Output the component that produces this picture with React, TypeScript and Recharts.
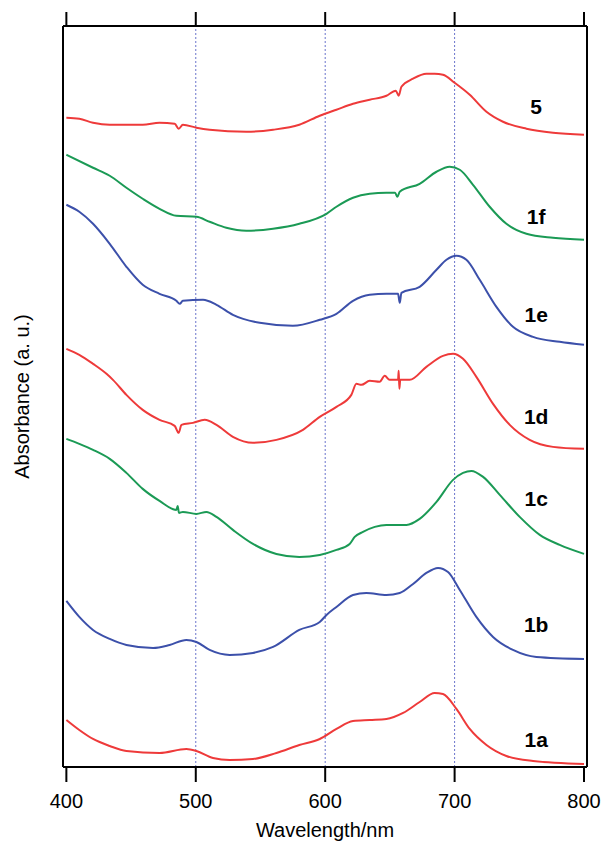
import { LineChart, Line, XAxis, YAxis, ReferenceLine } from "recharts";

// Offset UV-vis spectra, absorbance in arbitrary units: [wavelength nm, A]
const spectrum5: [number, number][] = [
  [400, 6.49], [410, 6.48], [420.6, 6.44], [433.5, 6.42], [459, 6.42], [472, 6.44],
  [483.7, 6.43], [486.8, 6.38], [490, 6.42], [500.5, 6.39], [510.7, 6.37], [539, 6.35],
  [559.7, 6.37], [580, 6.42], [595.8, 6.51], [608.7, 6.57], [621.5, 6.63], [634.4, 6.67],
  [647.3, 6.71], [654.5, 6.76], [656.8, 6.71], [658.9, 6.8], [667.9, 6.88], [678.2, 6.93],
  [684.6, 6.93], [691, 6.92], [700, 6.84], [711.7, 6.72], [724.6, 6.55], [737.4, 6.45],
  [755.5, 6.38], [776, 6.34], [800, 6.32],
];
const spectrum1f: [number, number][] = [
  [400, 6.12], [420.6, 5.99], [433.5, 5.91], [446.4, 5.79], [459, 5.68], [472, 5.58],
  [485, 5.51], [500.5, 5.5], [510.7, 5.45], [523.6, 5.39], [539, 5.36], [559.7, 5.38],
  [580, 5.43], [601, 5.53], [608.7, 5.6], [621.5, 5.69], [634.4, 5.73], [647.3, 5.74],
  [654, 5.74], [655.8, 5.7], [657.6, 5.75], [673, 5.83], [686, 5.95], [696.2, 6.0],
  [704, 5.97], [714.2, 5.82], [727.1, 5.6], [740, 5.43], [755.5, 5.33], [776, 5.29],
  [800, 5.27],
];
const spectrum1e: [number, number][] = [
  [400, 5.62], [410, 5.55], [420.6, 5.43], [433.5, 5.23], [446.4, 5.0], [459, 4.82],
  [472, 4.73], [485, 4.66], [487.6, 4.63], [490, 4.66], [505.6, 4.67], [516, 4.62],
  [528.7, 4.52], [549.4, 4.44], [575, 4.41], [595.8, 4.47], [608.7, 4.53], [621.5, 4.66],
  [634.4, 4.72], [647.3, 4.73], [656.3, 4.73], [657.6, 4.64], [658.9, 4.74], [673, 4.8],
  [686, 4.97], [693.7, 5.07], [701.4, 5.11], [709.1, 5.07], [719.4, 4.87], [732.3, 4.6],
  [745.1, 4.4], [760.6, 4.3], [781.2, 4.25], [800, 4.22],
];
const spectrum1d: [number, number][] = [
  [400, 4.18], [410, 4.12], [420.6, 4.03], [431, 3.93], [436, 3.87], [446.4, 3.72],
  [459, 3.57], [472, 3.47], [483.7, 3.41], [486.8, 3.34], [488.9, 3.42], [497.8, 3.44],
  [506.9, 3.47], [516, 3.42], [528.7, 3.3], [544.2, 3.24], [562.3, 3.27], [582.8, 3.37],
  [595.8, 3.5], [608.7, 3.6], [620.2, 3.72], [624.1, 3.83], [628, 3.82], [634.4, 3.86],
  [642.1, 3.85], [646, 3.91], [649.8, 3.87], [656.3, 3.87], [656.8, 3.96], [657.3, 3.78],
  [658, 3.87], [665.3, 3.87], [678.2, 4.0], [691, 4.11], [698.8, 4.13], [706.5, 4.08],
  [716.8, 3.9], [729.7, 3.63], [742.6, 3.42], [758, 3.27], [776, 3.2], [800, 3.18],
];
const spectrum1c: [number, number][] = [
  [400, 3.28], [410, 3.23], [420.6, 3.17], [433.5, 3.08], [446.4, 2.94], [459, 2.78],
  [472, 2.66], [485, 2.57], [486, 2.61], [487, 2.54], [490, 2.55], [500.5, 2.53],
  [508.2, 2.55], [516, 2.5], [528.7, 2.37], [544.2, 2.23], [562.3, 2.13], [580, 2.1],
  [595.8, 2.12], [608.7, 2.17], [618.9, 2.23], [622.8, 2.3], [629.2, 2.35], [638.3, 2.4],
  [647.3, 2.42], [662.8, 2.42], [673, 2.48], [686, 2.65], [698.8, 2.87], [706.5, 2.94],
  [713, 2.96], [722, 2.9], [734.9, 2.72], [750.3, 2.5], [765.8, 2.32], [781.2, 2.22],
  [800, 2.13],
];
const spectrum1b: [number, number][] = [
  [400, 1.66], [410, 1.5], [420.6, 1.37], [433.5, 1.28], [446.4, 1.22], [467, 1.19],
  [479.8, 1.22], [492.7, 1.27], [500.5, 1.25], [510.7, 1.17], [526.2, 1.12], [544.2, 1.14],
  [559.7, 1.2], [580, 1.37], [595.8, 1.45], [601, 1.52], [608.7, 1.6], [621.5, 1.72],
  [631.8, 1.74], [647.3, 1.72], [657.6, 1.74], [667.9, 1.83], [678.2, 1.94], [687.2, 1.99],
  [694.9, 1.95], [704, 1.77], [716.8, 1.5], [729.7, 1.3], [745.1, 1.17], [763.2, 1.1],
  [800, 1.08],
];
const spectrum1a: [number, number][] = [
  [400, 0.47], [410, 0.37], [420.6, 0.28], [433.5, 0.21], [446.4, 0.16], [472, 0.14],
  [492.7, 0.18], [500.5, 0.16], [513.3, 0.09], [526.2, 0.07], [544.2, 0.08], [562.3, 0.14],
  [580, 0.22], [595.8, 0.28], [608.7, 0.38], [621.5, 0.46], [634.4, 0.47], [647.3, 0.48],
  [660.2, 0.54], [673, 0.65], [684.6, 0.74], [691, 0.73], [701.4, 0.58], [711.7, 0.38],
  [724.6, 0.22], [740, 0.11], [760.6, 0.06], [800, 0.03],
];

const xTicks = [400, 500, 600, 700, 800];
const guideLines = [500, 600, 700];

const RED = "#ee3a3a";
const GREEN = "#1b9a55";
const BLUE = "#3c50aa";

const series = [
  { name: "5", points: spectrum5, color: RED, labelY: 6.6 },
  { name: "1f", points: spectrum1f, color: GREEN, labelY: 5.5 },
  { name: "1e", points: spectrum1e, color: BLUE, labelY: 4.52 },
  { name: "1d", points: spectrum1d, color: RED, labelY: 3.5 },
  { name: "1c", points: spectrum1c, color: GREEN, labelY: 2.68 },
  { name: "1b", points: spectrum1b, color: BLUE, labelY: 1.42 },
  { name: "1a", points: spectrum1a, color: RED, labelY: 0.27 },
];

const font = "Arial, 'Liberation Sans', sans-serif";

export default function App() {
  return (
    <div style={{ position: "absolute", left: 0, top: 0, background: "#fff" }}>
      <LineChart
        width={603}
        height={841}
        margin={{ top: 25, right: 15, bottom: 44, left: 62 }}
      >
        <XAxis
          xAxisId="bottom"
          type="number"
          dataKey="x"
          domain={[397.4, 802.3]}
          ticks={xTicks}
          allowDataOverflow
          height={30}
          stroke="#000"
          strokeWidth={2}
          tickSize={15}
          tick={{ fill: "#000", fontSize: 20, fontFamily: font }}
          tickMargin={12}
          label={{
            value: "Wavelength/nm",
            position: "insideBottom",
            offset: -40,
            fill: "#000",
            fontSize: 20,
            fontFamily: font,
          }}
        />
        <XAxis
          xAxisId="top"
          orientation="top"
          type="number"
          dataKey="x"
          domain={[397.4, 802.3]}
          ticks={xTicks}
          allowDataOverflow
          stroke="#000"
          strokeWidth={2}
          tickSize={14}
          tickLine={{ stroke: "#000", strokeWidth: 2 }}
          tick={{ fontSize: 1, fill: "none" }}
          tickFormatter={() => ""}
          height={1}
        />
        <YAxis
          yAxisId="left"
          type="number"
          domain={[0, 7.407]}
          width={1}
          tick={false}
          tickLine={false}
          stroke="#000"
          strokeWidth={2}
          label={{
            value: "Absorbance (a. u.)",
            angle: -90,
            position: "center",
            dx: -41,
            fill: "#000",
            fontSize: 20,
            fontFamily: font,
          }}
        />
        <YAxis
          yAxisId="right"
          orientation="right"
          type="number"
          domain={[0, 7.407]}
          width={1}
          tick={false}
          tickLine={false}
          stroke="#000"
          strokeWidth={2}
        />
        {guideLines.map((g) => (
          <ReferenceLine
            key={g}
            x={g}
            xAxisId="bottom"
            yAxisId="left"
            stroke="#6b74cc"
            strokeWidth={1}
            strokeDasharray="2 2"
          />
        ))}
        {series.map((s) => (
          <Line
            key={s.name}
            xAxisId="bottom"
            yAxisId="left"
            data={s.points.map(([x, y]) => ({ x, y }))}
            dataKey="y"
            type="monotone"
            stroke={s.color}
            strokeWidth={2}
            dot={false}
            activeDot={false}
            isAnimationActive={false}
          />
        ))}
        {series.map((s) => (
          <ReferenceLine
            key={"lbl" + s.name}
            xAxisId="bottom"
            yAxisId="left"
            segment={[
              { x: 763, y: s.labelY },
              { x: 763, y: s.labelY },
            ]}
            stroke="none"
            label={{
              value: s.name,
              position: "center",
              fill: "#000",
              fontSize: 21,
              fontWeight: "bold",
              fontFamily: font,
            }}
          />
        ))}
      </LineChart>
    </div>
  );
}
